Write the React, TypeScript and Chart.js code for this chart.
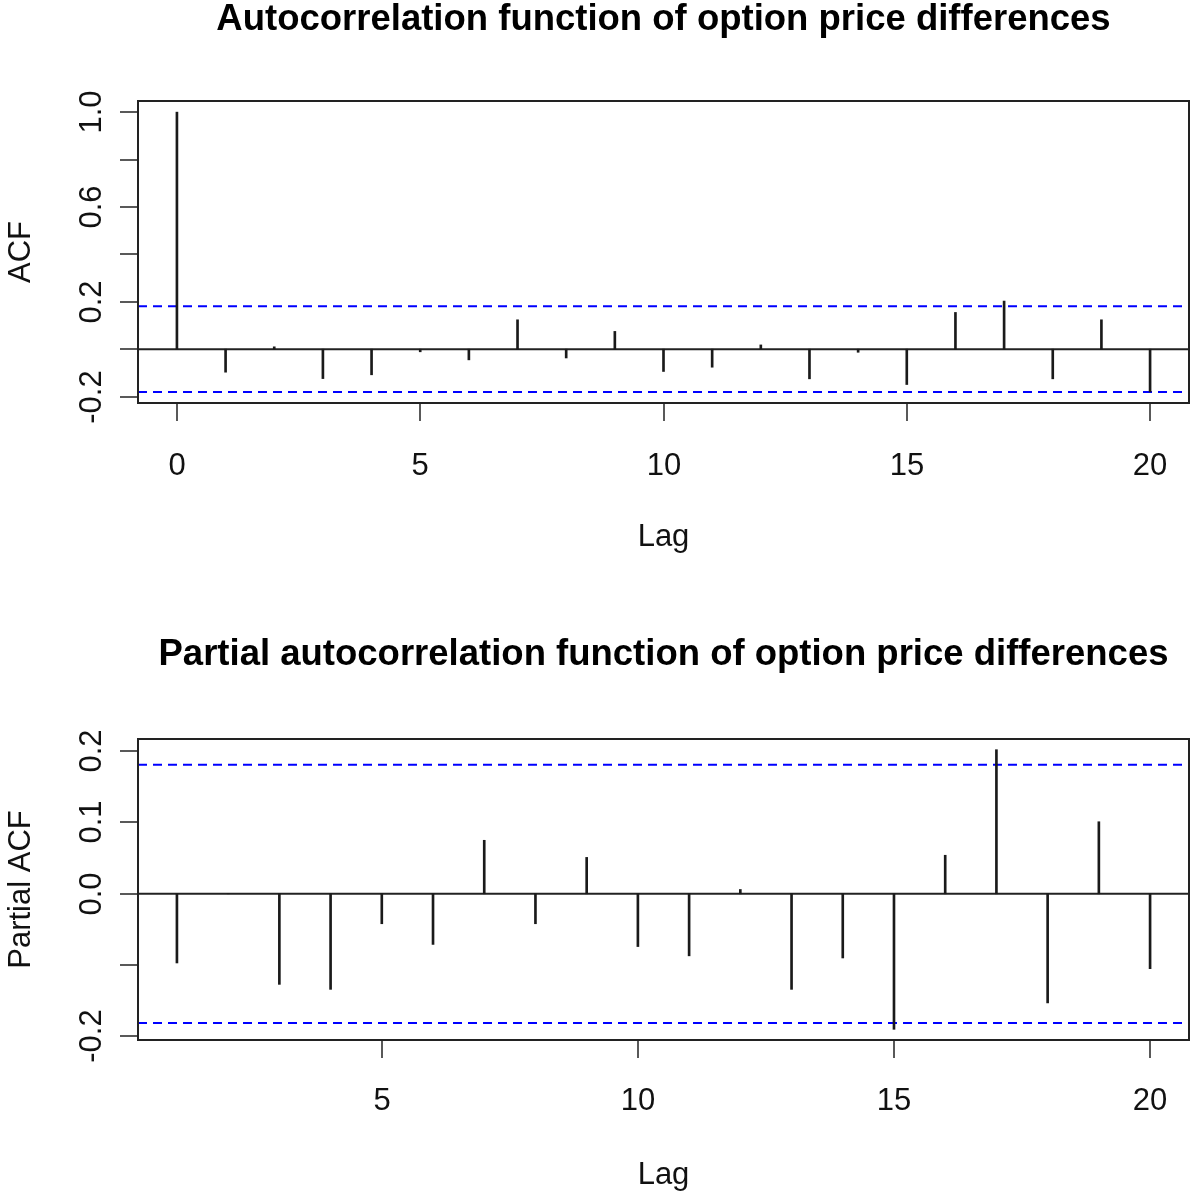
import React, { useEffect, useRef } from 'react';
import { Chart, registerables } from 'chart.js';

Chart.register(...registerables);

// ---------- data ----------
const ACF_LAGS = [0, 1, 2, 3, 4, 5, 6, 7, 8, 9, 10, 11, 12, 13, 14, 15, 16, 17, 18, 19, 20];
const ACF_VALUES = [
  1.0, -0.097, 0.01, -0.124, -0.108, -0.011, -0.045, 0.124, -0.037, 0.075, -0.094,
  -0.076, 0.018, -0.125, -0.013, -0.149, 0.155, 0.203, -0.125, 0.124, -0.18,
];
const PACF_LAGS = [1, 2, 3, 4, 5, 6, 7, 8, 9, 10, 11, 12, 13, 14, 15, 16, 17, 18, 19, 20];
const PACF_VALUES = [
  -0.097, 0.0, -0.127, -0.134, -0.042, -0.071, 0.075, -0.042, 0.051, -0.074,
  -0.087, 0.006, -0.134, -0.09, -0.19, 0.054, 0.202, -0.153, 0.101, -0.105,
];
const CONF_LIMIT = 0.181;

const ACF_X_TICKS = [0, 5, 10, 15, 20];
const PACF_X_TICKS = [5, 10, 15, 20];
const ACF_Y_TICKS = [-0.2, 0, 0.2, 0.4, 0.6, 0.8, 1.0];
const ACF_Y_LABELS = ['-0.2', '', '0.2', '', '0.6', '', '1.0'];
const PACF_Y_TICKS = [-0.2, -0.1, 0, 0.1, 0.2];
const PACF_Y_LABELS = ['-0.2', '', '0.0', '0.1', '0.2'];

const ACF_TITLE = 'Autocorrelation function of option price differences';
const PACF_TITLE = 'Partial autocorrelation function of option price differences';
const X_TITLE = 'Lag';
const ACF_Y_TITLE = 'ACF';
const PACF_Y_TITLE = 'Partial ACF';

const ACF_X_RANGE = [-0.8, 20.8];
const ACF_Y_RANGE = [-0.227, 1.047];
const PACF_X_RANGE = [0.24, 20.76];
const PACF_Y_RANGE = [-0.205, 0.217];

// ---------- layout ----------
const W = 1193;
const H = 596;
const FONT = '"Liberation Sans", Arial, Helvetica, sans-serif';
const AXIS_COLOR = '#222222';

type PanelSpec = {
  lags: number[];
  values: number[];
  xTicks: number[];
  yTicks: number[];
  yLabels: string[];
  title: string;
  yTitle: string;
  xRange: number[];
  yRange: number[];
  padding: { left: number; right: number; top: number; bottom: number };
  titleBaseline: number;
  xLabelBaseline: number;
  xTitleBaseline: number;
};

const framePlugin = (spec: PanelSpec) => ({
  id: 'rFrame',
  afterDraw(chart: any) {
    const ctx = chart.ctx as CanvasRenderingContext2D;
    const area = chart.chartArea;
    const xs = chart.scales.x;
    const ys = chart.scales.y;
    ctx.save();
    // box
    ctx.strokeStyle = AXIS_COLOR;
    ctx.lineWidth = 2;
    ctx.strokeRect(area.left, area.top, area.right - area.left, area.bottom - area.top);

    // x ticks
    ctx.lineWidth = 1.5;
    ctx.fillStyle = '#111111';
    ctx.font = `31px ${FONT}`;
    ctx.textAlign = 'center';
    ctx.textBaseline = 'alphabetic';
    spec.xTicks.forEach((t) => {
      const px = Math.round(xs.getPixelForValue(t));
      ctx.beginPath();
      ctx.moveTo(px, area.bottom);
      ctx.lineTo(px, area.bottom + 18);
      ctx.stroke();
      ctx.fillText(String(t), px, spec.xLabelBaseline);
    });

    // y ticks
    spec.yTicks.forEach((t, i) => {
      const py = Math.round(ys.getPixelForValue(t));
      ctx.beginPath();
      ctx.moveTo(area.left, py);
      ctx.lineTo(area.left - 18, py);
      ctx.stroke();
      const lab = spec.yLabels[i];
      if (lab) {
        ctx.save();
        ctx.translate(area.left - 37, py);
        ctx.rotate(-Math.PI / 2);
        ctx.fillText(lab, 0, 0);
        ctx.restore();
      }
    });

    const cx = (area.left + area.right) / 2;
    const cy = (area.top + area.bottom) / 2;
    // axis titles
    ctx.fillText(X_TITLE, cx, spec.xTitleBaseline);
    ctx.save();
    ctx.translate(area.left - 108, cy);
    ctx.rotate(-Math.PI / 2);
    ctx.fillText(spec.yTitle, 0, 0);
    ctx.restore();

    // main title
    ctx.fillStyle = '#000000';
    ctx.font = `bold 36.5px ${FONT}`;
    ctx.fillText(spec.title, cx, spec.titleBaseline);
    ctx.restore();
  },
});

function Panel({ spec }: { spec: PanelSpec }) {
  const ref = useRef<HTMLCanvasElement | null>(null);
  useEffect(() => {
    if (!ref.current) return;
    const [xMin, xMax] = spec.xRange;
    const [yMin, yMax] = spec.yRange;
    const chart = new Chart(ref.current, {
      type: 'bar',
      data: {
        datasets: [
          {
            type: 'line',
            data: [{ x: xMin, y: 0 }, { x: xMax, y: 0 }],
            borderColor: AXIS_COLOR,
            borderWidth: 2,
            pointRadius: 0,
            order: 2,
          } as any,
          {
            type: 'line',
            data: [{ x: xMin, y: CONF_LIMIT }, { x: xMax, y: CONF_LIMIT }],
            borderColor: '#0000ff',
            borderWidth: 2,
            borderDash: [9, 6],
            pointRadius: 0,
            order: 3,
          } as any,
          {
            type: 'line',
            data: [{ x: xMin, y: -CONF_LIMIT }, { x: xMax, y: -CONF_LIMIT }],
            borderColor: '#0000ff',
            borderWidth: 2,
            borderDash: [9, 6],
            pointRadius: 0,
            order: 3,
          } as any,
          {
            type: 'bar',
            data: spec.lags.map((l, i) => ({ x: l, y: spec.values[i] })),
            backgroundColor: '#1a1a1a',
            barThickness: 2,
            order: 1,
          } as any,
        ],
      },
      options: {
        animation: false,
        responsive: false,
        maintainAspectRatio: false,
        devicePixelRatio: 1,
        layout: { padding: spec.padding },
        plugins: { legend: { display: false }, tooltip: { enabled: false }, title: { display: false } },
        scales: {
          x: { type: 'linear', min: xMin, max: xMax, offset: false, display: false },
          y: { type: 'linear', min: yMin, max: yMax, display: false },
        },
      } as any,
      plugins: [framePlugin(spec)],
    });
    return () => chart.destroy();
  }, [spec]);
  return <canvas ref={ref} width={W} height={H} style={{ display: 'block', width: W, height: H }} />;
}

const ACF_SPEC: PanelSpec = {
  lags: ACF_LAGS,
  values: ACF_VALUES,
  xTicks: ACF_X_TICKS,
  yTicks: ACF_Y_TICKS,
  yLabels: ACF_Y_LABELS,
  title: ACF_TITLE,
  yTitle: ACF_Y_TITLE,
  xRange: ACF_X_RANGE,
  yRange: ACF_Y_RANGE,
  padding: { left: 138, right: 4, top: 101, bottom: 193 },
  titleBaseline: 30,
  xLabelBaseline: 475,
  xTitleBaseline: 546,
};

const PACF_SPEC: PanelSpec = {
  lags: PACF_LAGS,
  values: PACF_VALUES,
  xTicks: PACF_X_TICKS,
  yTicks: PACF_Y_TICKS,
  yLabels: PACF_Y_LABELS,
  title: PACF_TITLE,
  yTitle: PACF_Y_TITLE,
  xRange: PACF_X_RANGE,
  yRange: PACF_Y_RANGE,
  padding: { left: 138, right: 4, top: 143, bottom: 152 },
  titleBaseline: 69,
  xLabelBaseline: 514,
  xTitleBaseline: 588,
};

export default function App() {
  return (
    <div style={{ position: 'absolute', left: 0, top: 0, width: W, height: 2 * H, background: '#ffffff' }}>
      <Panel spec={ACF_SPEC} />
      <Panel spec={PACF_SPEC} />
    </div>
  );
}
